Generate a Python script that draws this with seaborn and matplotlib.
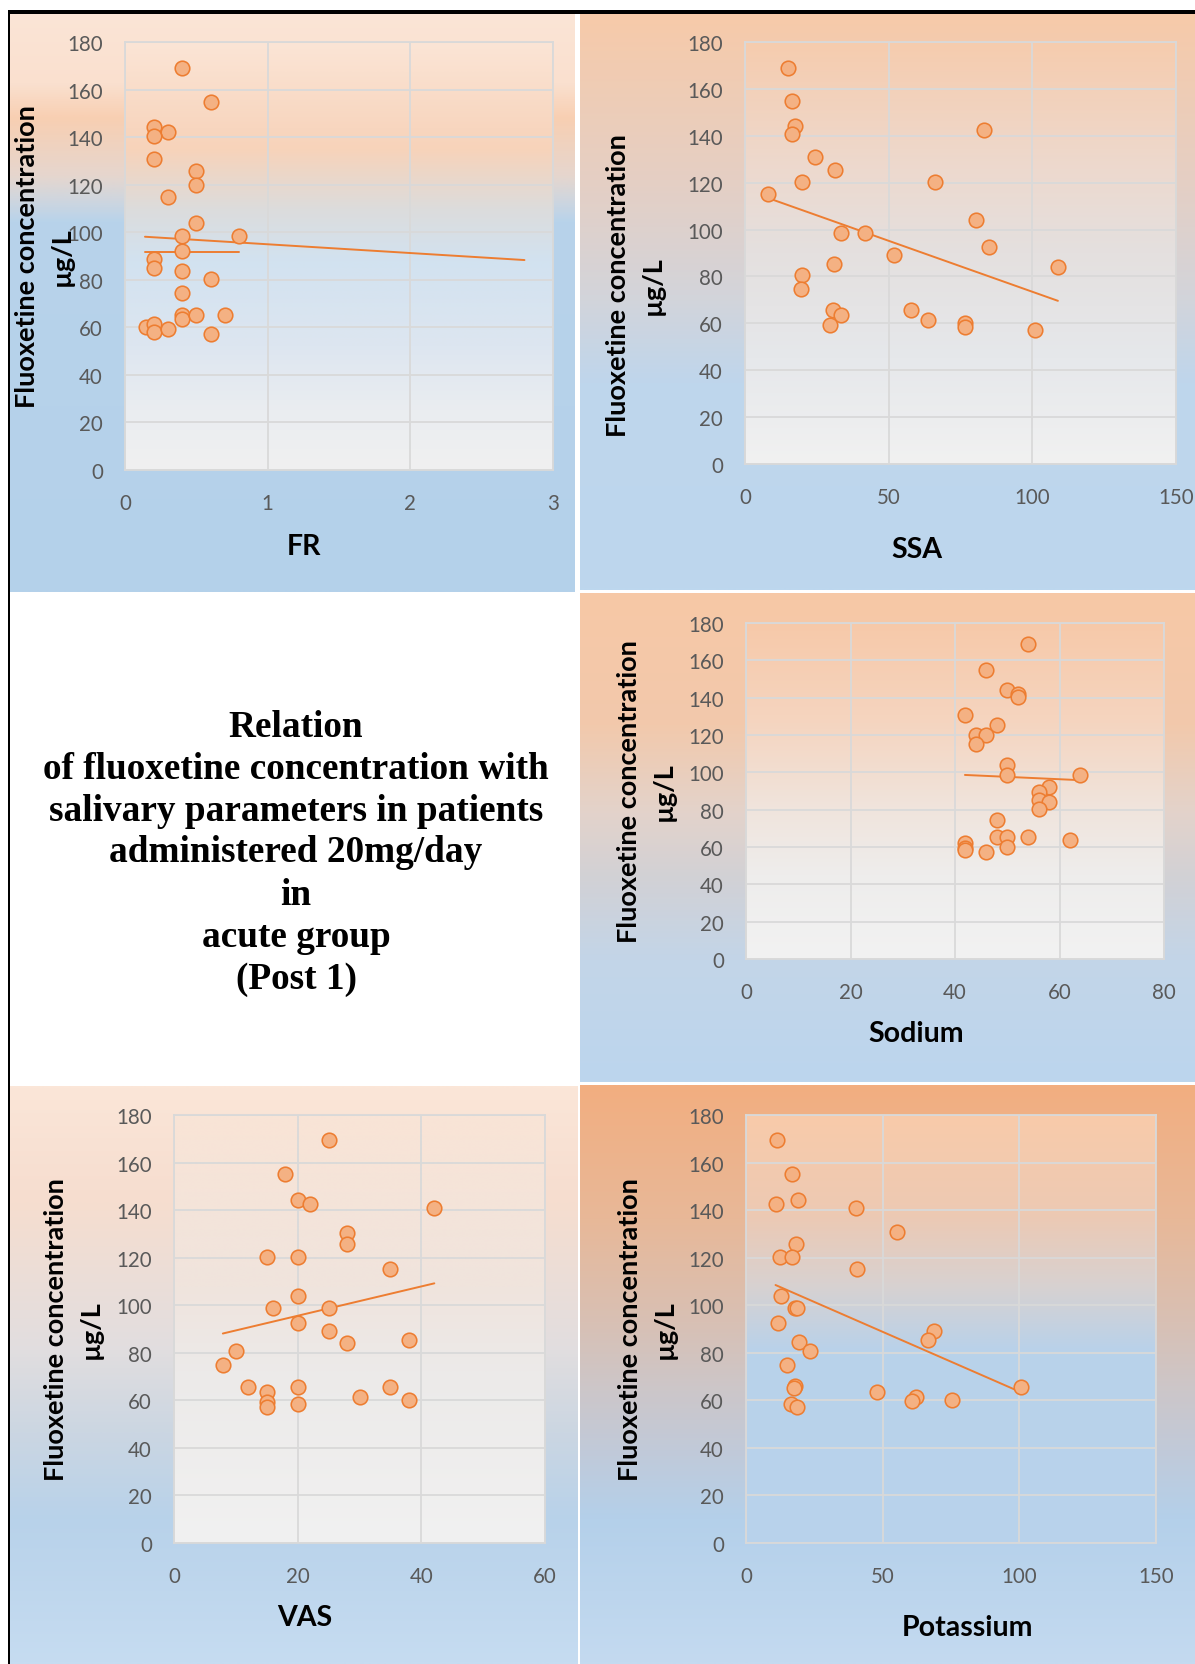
import numpy as np
import matplotlib
matplotlib.use("Agg")
import matplotlib.pyplot as plt
from matplotlib.colors import LinearSegmentedColormap
from matplotlib.patches import Rectangle
import seaborn as sns

# ---------------------------------------------------------------- data
fr_x = [0.4, 0.6, 0.2, 0.3, 0.2, 0.2, 0.5, 0.5, 0.3, 0.5, 0.4, 0.8, 0.4, 0.2,
        0.2, 0.4, 0.6, 0.4, 0.4, 0.4, 0.5, 0.7, 0.15, 0.2, 0.2, 0.3, 0.6]
fr_y = [169.0, 154.6, 144.1, 142.2, 140.4, 130.9, 125.6, 120.0, 115.0, 103.9,
        98.6, 98.4, 92.2, 88.9, 84.9, 83.8, 80.4, 74.3, 65.3, 63.4, 65.3, 65.3,
        60.0, 61.4, 58.2, 59.5, 57.1]
fr_trend_x = [0.14, 2.8]
fr_trend_y = [98.1, 88.3]
fr_trend2_x = [0.14, 0.8]
fr_trend2_y = [91.8, 91.8]

ssa_x = [15.1, 16.3, 17.5, 16.3, 83.2, 24.5, 31.2, 19.9, 66.2, 7.9, 80.3, 33.4,
         41.6, 84.8, 51.8, 31.1, 108.8, 19.7, 19.5, 30.5, 57.7, 33.4, 63.8,
         29.5, 76.4, 76.7, 100.8]
ssa_y = [168.9, 154.7, 144.2, 140.6, 142.3, 131.0, 125.6, 120.2, 120.1, 115.2,
         103.9, 98.7, 98.7, 92.5, 89.0, 85.1, 84.1, 80.5, 74.5, 65.5, 65.5,
         63.4, 61.4, 59.3, 60.3, 58.3, 57.3]
ssa_trend_x = [7.9, 108.9]
ssa_trend_y = [113.5, 69.6]

sodium_x = [54, 46, 50, 52, 52, 42, 48, 44, 46, 44, 50, 50, 64, 58, 56, 56.1,
            58, 56, 48, 48, 50, 54, 62, 42, 42, 42, 50, 46]
sodium_y = [168.9, 154.7, 144.1, 142.2, 140.6, 130.9, 125.6, 120.2, 120.2,
            115.1, 104.0, 98.5, 98.6, 92.4, 89.2, 85.1, 84.2, 80.4, 74.6, 65.6,
            65.6, 65.6, 63.5, 62.1, 59.6, 58.5, 60.1, 57.3]
sodium_trend_x = [41.9, 64.0]
sodium_trend_y = [98.6, 95.8]

vas_x = [25, 18, 20, 22, 42, 28, 28, 15, 20, 35, 20, 16, 25, 20, 25, 28, 38,
         10, 8, 12, 20, 35, 15, 30, 15, 15, 20, 38]
vas_y = [169.3, 155.0, 144.4, 142.5, 140.8, 130.5, 125.8, 120.4, 120.4, 115.2,
         104.0, 98.9, 98.9, 92.6, 89.2, 84.2, 85.2, 80.8, 74.7, 65.6, 65.6,
         65.7, 63.7, 61.5, 59.3, 57.3, 58.5, 60.3]
vas_trend_x = [7.9, 42.1]
vas_trend_y = [88.1, 109.2]

potassium_x = [11.3, 16.7, 10.8, 19.0, 40.1, 55.3, 18.2, 12.4, 16.9, 40.7,
               12.7, 18.0, 18.5, 11.8, 68.8, 66.7, 19.5, 23.4, 14.9, 18.0,
               17.7, 100.6, 48.1, 62.3, 60.7, 75.2, 16.6, 18.6]
potassium_y = [169.3, 155.0, 142.5, 144.4, 140.8, 130.8, 125.8, 120.4, 120.4,
               115.2, 104.0, 99.0, 98.9, 92.6, 89.2, 85.2, 84.4, 80.7, 74.7,
               65.9, 65.3, 65.7, 63.7, 61.6, 59.6, 60.3, 58.5, 57.4]
potassium_trend_x = [10.8, 100.6]
potassium_trend_y = [108.5, 63.4]

y_ticks = [0, 20, 40, 60, 80, 100, 120, 140, 160, 180]
y_label = ["Fluoxetine concentration", "\u00b5g/L"]

title_lines = ["Relation", "of fluoxetine concentration with",
               "salivary parameters in patients", "administered 20mg/day",
               "in", "acute group", "(Post 1)"]

# ---------------------------------------------------------------- styling
W, H = 1195, 1665
sns.set_style("white")
plt.rcParams["font.family"] = ["Lato", "DejaVu Sans"]

fig = plt.figure(figsize=(W / 100, H / 100), dpi=100, facecolor="white")

MARK_FACE = "#F4B183"
MARK_EDGE = "#ED7D31"
GRID = "#D9D9D9"
TICK = "#595959"


def px_rect(l, t, r, b):
    return [l / W, 1 - b / H, (r - l) / W, (b - t) / H]


def gradient_cmap(pos, colors):
    return LinearSegmentedColormap.from_list("g", list(zip(pos, colors)))


def backdrop(rect, pos, colors):
    ax = fig.add_axes(px_rect(*rect), zorder=0)
    ax.imshow(np.linspace(0, 1, 512).reshape(-1, 1),
              cmap=gradient_cmap(pos, colors), aspect="auto",
              extent=(0, 1, 0, 1), origin="upper", interpolation="bilinear")
    ax.set_axis_off()


def panel(rect, plot_rect, outer, inner, x, y, trends, xmax, xstep,
          xlabel, xlab_pos, ylab_base, ylab_center):
    backdrop(rect, *outer)
    ax = fig.add_axes(px_rect(*plot_rect), zorder=2)
    ax.imshow(np.linspace(0, 1, 512).reshape(-1, 1),
              cmap=gradient_cmap(*inner), aspect="auto",
              extent=(0, xmax, 0, 180), origin="upper",
              interpolation="bilinear", zorder=0)
    for tx, ty in trends:
        sns.lineplot(x=tx, y=ty, ax=ax, color=MARK_EDGE, linewidth=1.4,
                     zorder=2, estimator=None, sort=False)
    sns.scatterplot(x=x, y=y, ax=ax, s=110, color=MARK_FACE,
                    edgecolor=MARK_EDGE, linewidth=1.15, zorder=3)
    ax.set_xlim(0, xmax)
    ax.set_ylim(0, 180)
    ax.set_xticks(np.arange(0, xmax + xstep / 2, xstep))
    ax.set_yticks(y_ticks)
    ax.set_xlabel("")
    ax.set_ylabel("")
    ax.grid(True, color=GRID, linewidth=1.3)
    ax.set_axisbelow(True)
    for s in ax.spines.values():
        s.set_visible(True)
        s.set_color(GRID)
        s.set_linewidth(1.3)
    ax.tick_params(length=0, labelsize=14.8, labelcolor=TICK)
    ax.tick_params(axis="x", pad=16.5)
    ax.tick_params(axis="y", pad=16)
    # axis titles
    fig.text(xlab_pos[0] / W, 1 - xlab_pos[1] / H, xlabel, ha="center",
             va="baseline", fontsize=20.5, fontweight="bold", color="black")
    for i, line in enumerate(y_label):
        fig.text((ylab_base + 35 * i) / W, 1 - ylab_center / H, line,
                 rotation=90, rotation_mode="anchor", ha="center",
                 va="baseline", fontsize=19.5, fontweight="bold",
                 color="black")
    return ax


# FR (top left)
panel((9, 14, 575, 593), (125, 43, 553, 471),
      ([0, 0.12, 0.18, 0.28, 0.32, 0.36, 1.0],
       ["#FBE5D6", "#FAE0CF", "#F8CFB2", "#E6D6CE", "#D0D6DE", "#B8D3EB",
        "#B4D1EA"]),
      ([0, 0.2, 0.25, 0.39, 0.51, 0.71, 0.86, 1.0],
       ["#FBE5D6", "#F8D6BF", "#F7D3BA", "#DCDCDC", "#D2E2F0", "#DDE6F0",
        "#EAEDF1", "#F0F0F0"]),
      fr_x, fr_y, [(fr_trend_x, fr_trend_y), (fr_trend2_x, fr_trend2_y)],
      3, 1, "FR", (304, 555), 35, 257)

# SSA (top right)
panel((580, 14, 1195, 591), (745, 43, 1176, 465),
      ([0, 0.29, 0.49, 0.64, 1.0],
       ["#F7CAA9", "#E5CFC4", "#D3D4DA", "#BFD6EC", "#BDD7EE"]),
      ([0, 0.3, 0.5, 0.75, 1.0],
       ["#F6CCAE", "#EDD9CE", "#E4E0DF", "#E6E8EB", "#F1F1F1"]),
      ssa_x, ssa_y, [(ssa_trend_x, ssa_trend_y)],
      150, 50, "SSA", (917, 558), 626, 286)

# Sodium (middle right)
panel((580, 594, 1195, 1083), (746, 624, 1164, 960),
      ([0, 0.27, 0.45, 0.58, 0.75, 1.0],
       ["#F7C8A6", "#F2C9AC", "#E3D3CB", "#D2D1D5", "#C3D5E8", "#BCD6EE"]),
      ([0, 0.3, 0.55, 0.75, 1.0],
       ["#F7C9A9", "#F5D5C0", "#F0E4DC", "#EEEDEC", "#F2F2F2"]),
      sodium_x, sodium_y, [(sodium_trend_x, sodium_trend_y)],
      80, 20, "Sodium", (916, 1042), 637, 792)

# VAS (bottom left)
panel((9, 1087, 578, 1665), (174, 1116, 545, 1544),
      ([0, 0.2, 0.45, 0.6, 0.75, 1.0],
       ["#FBE6D8", "#F6DDCF", "#E2DEDF", "#CBD6E2", "#B8D2EA", "#C6DCF1"]),
      ([0, 0.4, 0.6, 1.0],
       ["#F9E4D6", "#F0E4DD", "#ECEAE9", "#F1F1F1"]),
      vas_x, vas_y, [(vas_trend_x, vas_trend_y)],
      60, 20, "VAS", (305, 1626), 64, 1330)

# Potassium (bottom right)
panel((580, 1086, 1195, 1665), (746, 1116, 1156, 1544),
      ([0, 0.23, 0.41, 0.52, 0.64, 0.75, 1.0],
       ["#F2AE80", "#E8B898", "#D8C0B4", "#CDC6C8", "#C0CADA", "#B4D0EA",
        "#C4DAF0"]),
      ([0, 0.23, 0.39, 0.55, 1.0],
       ["#F8CBAA", "#EDC9B3", "#D9D1CF", "#B9D2EA", "#B8D3EC"]),
      potassium_x, potassium_y, [(potassium_trend_x, potassium_trend_y)],
      150, 50, "Potassium", (967, 1636), 638, 1330)

# caption block in the empty cell
baselines = [737, 779, 821, 862, 905, 947, 989]
for line, yb in zip(title_lines, baselines):
    fig.text(296 / W, 1 - yb / H, line, ha="center", va="baseline",
             fontsize=26.8, fontweight="bold", color="black",
             family=["Liberation Serif", "DejaVu Serif"])

# black frame lines along the top and the left edge
fig.add_artist(Rectangle((8 / W, 1 - 14.5 / H), (W - 8) / W, 3.5 / H,
                         transform=fig.transFigure, facecolor="black",
                         edgecolor="none", zorder=5))
fig.add_artist(Rectangle((8 / W, 0), 1.8 / W, 1 - 11 / H,
                         transform=fig.transFigure, facecolor="black",
                         edgecolor="none", zorder=5))

fig.savefig("out.png", dpi=100, facecolor="white")
